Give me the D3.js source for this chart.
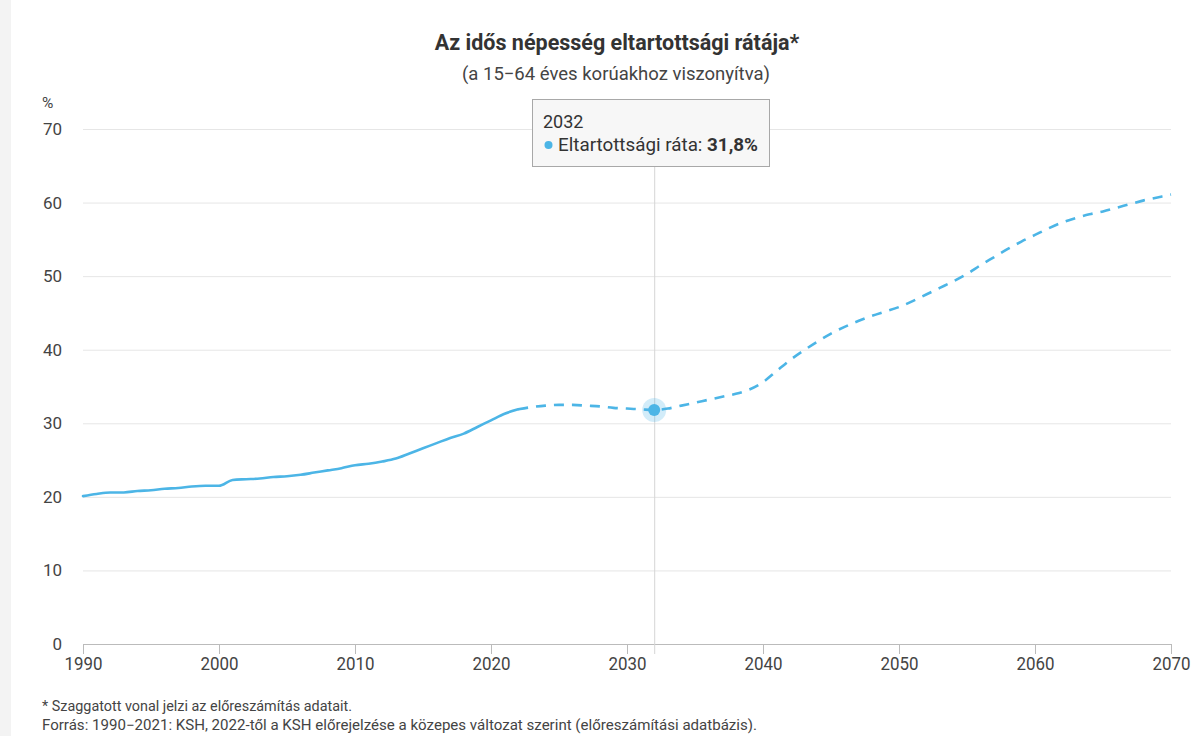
<!DOCTYPE html>
<html><head><meta charset="utf-8">
<script src="https://cdn.jsdelivr.net/npm/d3@7/dist/d3.min.js"></script>
<style>
body{margin:0;background:#fff;font-family:Roboto,"Noto Sans",sans-serif;}
svg{display:block}
</style></head><body>
<svg id="chart" width="1197" height="736"></svg>
<script>
const years = d3.range(1990, 2071);
const values = [
20.1,20.4,20.6,20.6,20.8,20.9,21.1,21.2,21.4,21.5,
21.5,22.3,22.4,22.5,22.7,22.8,23.0,23.3,23.6,23.9,
24.3,24.5,24.8,25.2,25.9,26.6,27.3,28.0,28.6,29.5,
30.4,31.3,31.9,32.2,32.4,32.5,32.5,32.4,32.3,32.1,
32.0,31.9,31.8,32.0,32.4,32.8,33.2,33.6,34.0,34.6,
35.6,37.1,38.6,39.9,41.1,42.2,43.1,43.9,44.6,45.2,
45.8,46.6,47.5,48.4,49.3,50.3,51.5,52.6,53.7,54.7,
55.6,56.5,57.3,57.9,58.4,58.8,59.3,59.8,60.3,60.7,61.1];
const lastObservedYear = 2022;
const yTicks = [0,10,20,30,40,50,60,70];
const xTicks = [1990,2000,2010,2020,2030,2040,2050,2060,2070];
const highlightYear = 2032;
const highlightLabel = "31,8%";
const title = "Az idős népesség eltartottsági rátája*";
const subtitle = "(a 15−64 éves korúakhoz viszonyítva)";
const notes = ["* Szaggatott vonal jelzi az előreszámítás adatait.",
 "Forrás: 1990−2021: KSH, 2022-től a KSH előrejelzése a közepes változat szerint (előreszámítási adatbázis)."];
const noteWidths = [310, 715];

const data = years.map((y,i)=>({year:y, value:values[i]}));
const svg = d3.select("#chart");
const color = "#4cb5e6";
const x = d3.scaleLinear().domain([1990,2070]).range([83,1171]);
const y = d3.scaleLinear().domain([0,70]).range([644,129]);

svg.append("rect").attr("x",0).attr("y",0).attr("width",11).attr("height",736).attr("fill","#f3f3f3");

svg.append("text").attr("x",617).attr("y",50).attr("text-anchor","middle")
  .attr("font-size",21.5).attr("font-weight",700).attr("fill","#333").text(title);
svg.append("text").attr("x",616).attr("y",80).attr("text-anchor","middle")
  .attr("font-size",18.5).attr("fill","#444").text(subtitle);

const gy = svg.append("g").attr("transform","translate(83,0)")
  .call(d3.axisLeft(y).tickValues(yTicks.filter(t=>t>0)).tickSize(-1088).tickFormat(""));
gy.select(".domain").remove();
gy.selectAll("line").attr("stroke","#e6e6e6");

svg.append("g").selectAll("text").data(yTicks).join("text")
  .attr("x",62).attr("y",d=>y(d)+6).attr("text-anchor","end")
  .attr("font-size",17).attr("fill","#444").text(d=>d);
svg.append("text").attr("x",42).attr("y",108).attr("font-size",15.5).attr("fill","#444").text("%");

const gx = svg.append("g").attr("transform","translate(0,644)")
  .call(d3.axisBottom(x).tickValues(xTicks).tickSize(10).tickFormat(d3.format("d")));
gx.select(".domain").attr("stroke","#bbb").attr("d","M83.5,0.5H1171.5");
gx.selectAll(".tick line").attr("stroke","#bbb");
gx.selectAll(".tick text").attr("font-size",19).attr("fill","#444")
  .attr("font-family","Roboto, sans-serif").attr("y",13)
  .attr("textLength",38).attr("lengthAdjust","spacingAndGlyphs");

svg.append("line").attr("x1",x(highlightYear)+0.5).attr("x2",x(highlightYear)+0.5)
  .attr("y1",129).attr("y2",654).attr("stroke","#d6d6d6").attr("stroke-width",1);

const line = d3.line().x(d=>x(d.year)).y(d=>y(d.value)).curve(d3.curveMonotoneX);
svg.append("path").datum(data.filter(d=>d.year<=lastObservedYear))
  .attr("d",line).attr("fill","none").attr("stroke",color).attr("stroke-width",2.6)
  .attr("stroke-linejoin","round").attr("stroke-linecap","round");
svg.append("path").datum(data.filter(d=>d.year>=lastObservedYear))
  .attr("d",line).attr("fill","none").attr("stroke",color).attr("stroke-width",2.6)
  .attr("stroke-dasharray","10,8");

const hp = data.find(d=>d.year===highlightYear);
svg.append("circle").attr("cx",x(hp.year)).attr("cy",y(hp.value)).attr("r",12)
  .attr("fill",color).attr("opacity",0.25);
svg.append("circle").attr("cx",x(hp.year)).attr("cy",y(hp.value)).attr("r",6)
  .attr("fill",color);

const tg = svg.append("g");
tg.append("rect").attr("x",532.5).attr("y",99.5).attr("width",237).attr("height",67)
  .attr("fill","#f7f7f7").attr("stroke","#a8a8a8").attr("stroke-width",1);
tg.append("text").attr("x",543).attr("y",128).attr("font-size",18).attr("fill","#333").text(highlightYear);
tg.append("circle").attr("cx",548.5).attr("cy",145).attr("r",4).attr("fill",color);
const tt = tg.append("text").attr("x",558).attr("y",151).attr("font-size",18).attr("fill","#333")
  .attr("textLength",200).attr("lengthAdjust","spacingAndGlyphs");
tt.append("tspan").text("Eltartottsági ráta: ");
tt.append("tspan").attr("font-weight",700).text(highlightLabel);

svg.append("g").selectAll("text").data(notes).join("text")
  .attr("x",42).attr("y",(d,i)=>711+i*19).attr("font-size",14).attr("fill","#444")
  .attr("textLength",(d,i)=>noteWidths[i]).attr("lengthAdjust","spacingAndGlyphs").text(d=>d);
</script>
</body></html>
